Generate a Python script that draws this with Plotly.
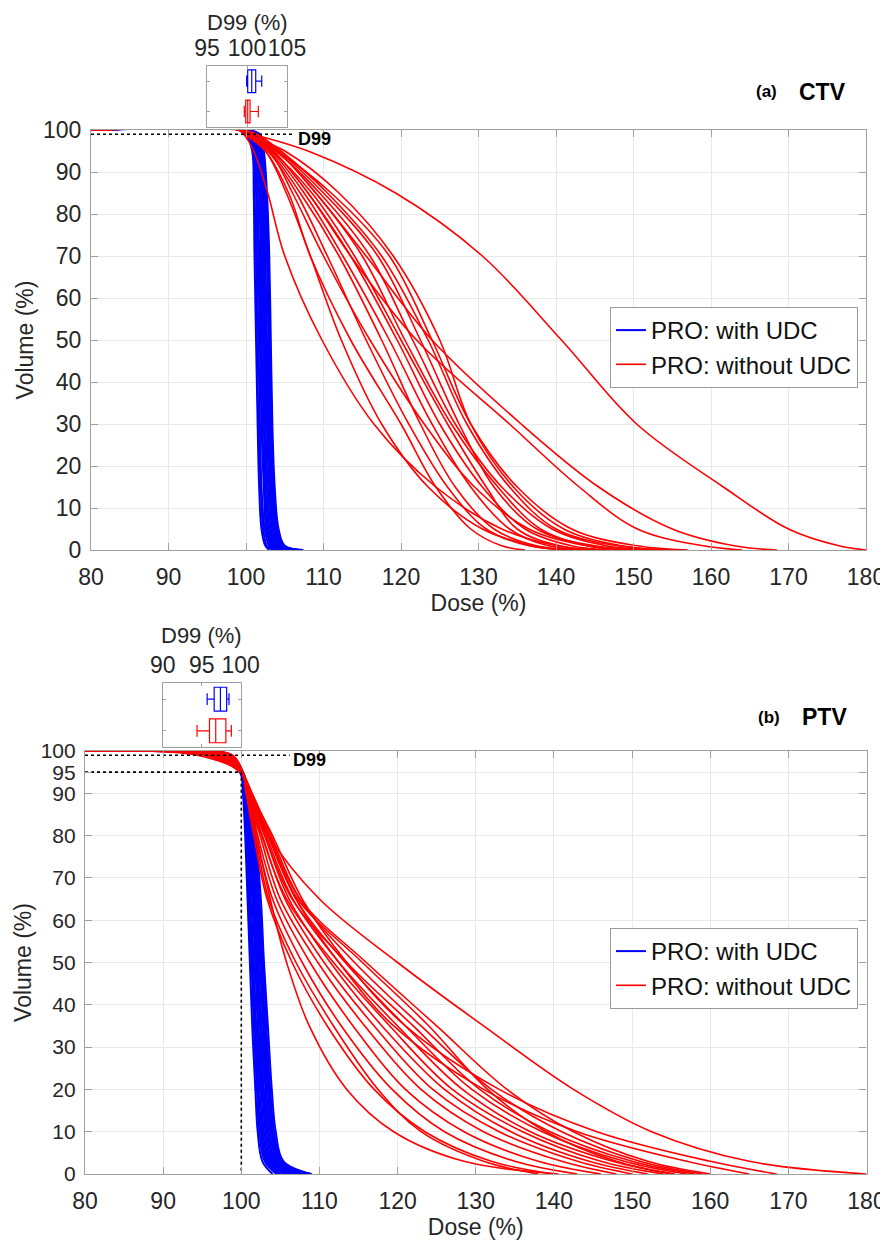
import plotly.graph_objects as go

# ---------------- DATA ----------------
START_DOSE = 80.0          # curves are flat at 100 % volume from here
# (a) CTV : volume levels (%) at which doses are read
CTV_LEVELS = [100, 99, 95, 85, 70, 50, 30, 15, 5, 1, 0]
CTV_BLUE = [
    [99.4, 100.0, 100.8, 101.0, 101.1, 101.3, 101.5, 101.7, 102.0, 102.5, 103.0],
    [99.5, 100.1, 100.9, 101.1, 101.3, 101.4, 101.6, 101.9, 102.2, 102.7, 103.5],
    [99.5, 100.1, 101.0, 101.3, 101.4, 101.6, 101.8, 102.0, 102.4, 103.0, 103.7],
    [99.6, 100.2, 101.1, 101.4, 101.6, 101.8, 102.0, 102.3, 102.6, 103.2, 104.0],
    [99.6, 100.3, 101.2, 101.5, 101.7, 101.9, 102.1, 102.4, 102.8, 103.3, 104.3],
    [99.7, 100.4, 101.3, 101.7, 101.9, 102.0, 102.3, 102.5, 102.9, 103.5, 104.5],
    [99.7, 100.5, 101.4, 101.8, 102.0, 102.2, 102.4, 102.7, 103.1, 103.7, 104.8],
    [99.8, 100.6, 101.4, 101.9, 102.1, 102.3, 102.5, 102.8, 103.2, 103.9, 105.0],
    [99.8, 100.6, 101.5, 102.0, 102.2, 102.4, 102.7, 103.0, 103.4, 104.1, 105.4],
    [99.8, 100.7, 101.6, 102.1, 102.3, 102.5, 102.8, 103.1, 103.5, 104.2, 105.6],
    [99.9, 100.8, 101.7, 102.2, 102.4, 102.6, 102.9, 103.2, 103.7, 104.4, 105.9],
    [99.9, 100.9, 101.8, 102.3, 102.5, 102.7, 103.0, 103.3, 103.8, 104.6, 106.3],
    [100.0, 101.0, 101.9, 102.4, 102.7, 102.9, 103.1, 103.4, 103.9, 104.7, 106.6],
    [100.0, 101.1, 102.0, 102.5, 102.8, 103.0, 103.2, 103.5, 104.0, 104.8, 106.9],
    [100.1, 101.4, 102.1, 102.6, 102.9, 103.1, 103.3, 103.6, 104.1, 104.9, 107.1],
    [100.2, 101.8, 102.3, 102.7, 103.0, 103.2, 103.4, 103.7, 104.2, 105.0, 107.4],
]
CTV_RED = [
    [99.0, 100.9, 108.0, 119.3, 130.5, 140.7, 150.4, 161.6, 170.0, 176.5, 180.0],
    [99.2, 100.2, 103.5, 108.0, 113.5, 122.0, 134.0, 143.0, 150.5, 159.0, 164.0],
    [99.3, 100.4, 104.0, 109.0, 115.5, 124.0, 135.5, 145.5, 155.0, 163.0, 168.5],
    [99.0, 99.7, 101.0, 102.8, 105.0, 109.8, 116.5, 124.5, 133.0, 140.0, 145.0],
    [99.1, 99.9, 102.5, 105.5, 108.3, 113.5, 120.0, 124.5, 129.0, 133.0, 136.0],
    [99.2, 100.0, 102.8, 106.5, 110.5, 115.5, 121.0, 126.0, 131.0, 136.5, 142.0],
    [99.3, 100.1, 103.0, 107.0, 112.0, 117.5, 122.5, 127.0, 132.0, 137.5, 143.0],
    [99.1, 99.8, 103.2, 107.5, 112.5, 118.5, 124.0, 129.0, 134.0, 139.0, 144.5],
    [99.4, 100.3, 103.5, 108.0, 113.5, 119.5, 125.0, 130.5, 136.0, 142.0, 147.0],
    [99.2, 100.1, 103.3, 108.5, 114.0, 120.0, 126.0, 131.0, 135.0, 140.5, 146.0],
    [99.5, 100.6, 104.0, 109.0, 115.0, 120.5, 126.5, 132.5, 138.0, 144.0, 150.0],
    [99.3, 100.2, 103.8, 109.5, 116.0, 121.5, 127.0, 133.0, 139.5, 146.5, 152.5],
    [99.6, 101.1, 104.2, 110.0, 117.0, 122.5, 127.5, 132.0, 137.5, 145.0, 153.0],
    [99.7, 101.4, 104.5, 110.5, 117.5, 123.5, 128.5, 134.0, 140.0, 148.0, 155.0],
    [99.2, 100.1, 104.0, 111.0, 118.5, 124.0, 129.0, 135.0, 142.0, 150.5, 157.0],
    [99.0, 99.8, 102.5, 105.2, 108.3, 112.3, 117.5, 123.5, 130.5, 137.0, 141.0],
    [99.1, 99.9, 103.0, 106.0, 110.0, 116.0, 123.0, 129.5, 136.5, 144.0, 149.0],
    [99.3, 100.0, 105.0, 112.0, 119.0, 125.0, 129.0, 134.5, 141.0, 148.5, 154.0],
]
# (b) PTV
PTV_LEVELS = [100, 99, 95, 90, 80, 65, 50, 35, 20, 10, 3, 0]
PTV_BLUE = [
    [89.0, 95.6, 99.8, 100.2, 100.5, 100.8, 101.1, 101.4, 101.8, 102.1, 102.7, 104.0],
    [90.0, 96.2, 99.9, 100.3, 100.6, 100.9, 101.3, 101.6, 102.0, 102.3, 103.0, 104.5],
    [90.5, 96.6, 99.9, 100.3, 100.7, 101.0, 101.4, 101.7, 102.1, 102.5, 103.2, 104.8],
    [91.0, 96.8, 100.0, 100.4, 100.8, 101.1, 101.5, 101.8, 102.2, 102.6, 103.3, 105.0],
    [90.5, 97.0, 100.0, 100.4, 100.9, 101.2, 101.6, 101.9, 102.4, 102.8, 103.5, 105.4],
    [91.5, 97.2, 100.0, 100.5, 101.0, 101.4, 101.8, 102.1, 102.5, 102.9, 103.7, 105.8],
    [91.0, 97.3, 100.0, 100.5, 101.1, 101.5, 101.9, 102.2, 102.7, 103.1, 103.9, 106.2],
    [92.0, 97.4, 100.0, 100.6, 101.2, 101.6, 102.0, 102.4, 102.8, 103.2, 104.0, 106.5],
    [91.5, 97.5, 100.1, 100.6, 101.3, 101.7, 102.1, 102.5, 102.9, 103.4, 104.2, 107.0],
    [92.0, 97.7, 100.1, 100.7, 101.3, 101.8, 102.2, 102.6, 103.1, 103.5, 104.4, 107.3],
    [92.5, 97.9, 100.1, 100.7, 101.4, 101.9, 102.4, 102.8, 103.2, 103.7, 104.6, 107.7],
    [92.0, 98.0, 100.1, 100.8, 101.5, 102.0, 102.5, 102.9, 103.4, 103.9, 104.8, 108.0],
    [93.0, 98.2, 100.2, 100.8, 101.6, 102.1, 102.6, 103.0, 103.5, 104.0, 104.9, 108.3],
    [93.0, 98.3, 100.2, 100.9, 101.6, 102.2, 102.7, 103.1, 103.6, 104.1, 105.1, 108.6],
    [93.5, 98.6, 100.2, 100.9, 101.7, 102.3, 102.8, 103.2, 103.7, 104.2, 105.2, 108.8],
    [94.0, 98.8, 100.2, 101.0, 101.8, 102.5, 102.9, 103.4, 103.9, 104.4, 105.4, 109.0],
]
PTV_RED = [
    [88.0, 94.4, 100.0, 101.0, 103.5, 110.0, 120.0, 131.0, 142.5, 152.5, 165.0, 180.0],
    [89.0, 96.0, 100.0, 101.0, 103.5, 107.0, 112.5, 119.5, 131.0, 143.0, 157.0, 165.0],
    [88.5, 95.8, 100.0, 101.2, 104.0, 107.8, 113.5, 121.0, 133.0, 145.5, 160.0, 168.5],
    [88.0, 95.2, 99.8, 101.3, 102.0, 103.7, 105.8, 108.7, 113.5, 119.5, 128.5, 140.6],
    [89.5, 96.2, 100.0, 100.6, 101.6, 103.3, 106.5, 111.0, 117.0, 123.5, 132.0, 140.0],
    [90.0, 96.5, 100.0, 100.7, 101.9, 104.0, 107.8, 112.8, 119.3, 126.0, 135.0, 143.0],
    [89.5, 96.7, 100.0, 100.8, 102.1, 104.5, 108.8, 114.3, 121.0, 128.5, 138.0, 146.0],
    [90.5, 96.8, 100.0, 100.9, 102.4, 105.0, 109.8, 115.8, 123.0, 131.0, 141.0, 148.0],
    [90.0, 96.9, 100.0, 101.0, 102.7, 105.6, 110.6, 117.0, 124.5, 133.0, 143.0, 150.0],
    [91.0, 97.0, 100.0, 101.1, 103.0, 106.1, 111.4, 118.0, 126.0, 134.5, 144.5, 152.0],
    [90.5, 97.3, 100.0, 100.9, 102.6, 105.8, 111.8, 119.0, 127.0, 136.0, 146.0, 154.0],
    [91.5, 97.6, 100.0, 101.2, 103.2, 106.6, 112.5, 120.0, 128.3, 137.0, 147.5, 155.0],
    [91.0, 97.9, 100.1, 101.3, 103.5, 107.0, 113.3, 121.0, 129.5, 138.5, 149.0, 157.0],
    [92.0, 98.1, 100.1, 101.0, 103.0, 106.5, 113.5, 122.0, 130.5, 139.5, 150.0, 158.0],
    [92.5, 98.3, 100.1, 101.4, 103.8, 107.5, 114.5, 123.0, 132.0, 141.0, 151.0, 159.0],
    [92.5, 98.5, 100.1, 101.2, 103.4, 107.2, 115.5, 124.0, 131.5, 139.0, 148.0, 155.5],
    [93.0, 98.7, 100.2, 100.7, 101.8, 103.5, 107.0, 111.8, 117.5, 123.0, 131.0, 138.0],
    [93.5, 98.9, 100.2, 101.3, 103.6, 107.5, 116.0, 125.0, 134.0, 142.5, 152.0, 160.0],
]
# D99 box-plot statistics (%): lowerfence, q1, median, q3, upperfence
CTV_D99_BLUE = [99.96, 100.09, 100.59, 101.09, 101.84]
CTV_D99_RED = [99.66, 99.84, 100.09, 100.38, 101.41]
PTV_D99_BLUE = [95.7, 96.6, 97.4, 98.2, 98.5]
PTV_D99_RED = [94.4, 96.0, 96.8, 98.1, 98.8]
# reference (dotted) lines
CTV_D99_LINE = {"x": [80, 106.3], "y": [99, 99]}
PTV_D99_LINE = {"x": [80, 106.2], "y": [99, 99]}
PTV_D95_LINE = {"x": [80, 100, 100], "y": [95, 95, 0]}

X_TICKS = list(range(80, 181, 10))
CTV_Y_TICKS = list(range(0, 101, 10))
PTV_Y_TICKS = [0, 10, 20, 30, 40, 50, 60, 70, 80, 90, 95, 100]
BLUE_NAME = "PRO: with UDC"
RED_NAME = "PRO: without UDC"

# ---------------- FIGURE ----------------
OFF = 8                      # page body margin of the html page
W, H = 888 - OFF, 1244 - OFF
BLUE, RED = "#0000FF", "#FF0000"
FONT = "Liberation Sans, Arial, sans-serif"
TXT = "#262626"
FRAME = "#a0a0a0"
GRID = "#e8e8e8"


def px(x):
    return (x - OFF) / W


def py(y):
    return 1 - (y - OFF) / H


fig = go.Figure()


def add_curves(curves, levels, color, width, xa, ya, name, legend):
    for i, c in enumerate(curves):
        fig.add_trace(go.Scatter(
            x=[START_DOSE] + c, y=[100] + levels, mode="lines",
            line=dict(color=color, width=width, shape="spline", smoothing=1.0),
            xaxis=xa, yaxis=ya, name=name, legendgroup=name + legend,
            showlegend=(i == 0), legend=legend, hoverinfo="skip"))


add_curves(CTV_BLUE, CTV_LEVELS, BLUE, 2.0, "x", "y", BLUE_NAME, "legend")
add_curves(CTV_RED, CTV_LEVELS, RED, 1.6, "x", "y", RED_NAME, "legend")
add_curves(PTV_BLUE, PTV_LEVELS, BLUE, 2.0, "x3", "y3", BLUE_NAME, "legend2")
add_curves(PTV_RED, PTV_LEVELS, RED, 1.6, "x3", "y3", RED_NAME, "legend2")

dot = dict(color="black", width=1.6, dash="dot")
fig.add_trace(go.Scatter(x=CTV_D99_LINE["x"], y=CTV_D99_LINE["y"], mode="lines",
                         line=dot, xaxis="x", yaxis="y", showlegend=False, hoverinfo="skip"))
fig.add_trace(go.Scatter(x=PTV_D99_LINE["x"], y=PTV_D99_LINE["y"], mode="lines",
                         line=dot, xaxis="x3", yaxis="y3", showlegend=False, hoverinfo="skip"))
fig.add_trace(go.Scatter(x=PTV_D95_LINE["x"], y=PTV_D95_LINE["y"], mode="lines",
                         line=dot, xaxis="x3", yaxis="y3", showlegend=False, hoverinfo="skip"))


def add_box(stats, pos, color, xa, ya):
    lf, q1, med, q3, uf = stats
    fig.add_trace(go.Box(
        y=[pos], q1=[q1], median=[med], q3=[q3], lowerfence=[lf], upperfence=[uf],
        orientation="h", width=0.75, whiskerwidth=0.5, boxpoints=False,
        line=dict(color=color, width=1.2), fillcolor="rgba(0,0,0,0)",
        xaxis=xa, yaxis=ya, showlegend=False, hoverinfo="skip"))


add_box(CTV_D99_BLUE, 2, BLUE, "x2", "y2")
add_box(CTV_D99_RED, 1, RED, "x2", "y2")
add_box(PTV_D99_BLUE, 2, BLUE, "x4", "y4")
add_box(PTV_D99_RED, 1, RED, "x4", "y4")


def main_x(domain, anchor):
    return dict(domain=domain, anchor=anchor, range=[80, 180], tickvals=X_TICKS,
                ticks="inside", ticklen=7, tickcolor=FRAME, showline=True,
                linecolor=FRAME, linewidth=1.2, mirror="ticks", showgrid=True,
                gridcolor=GRID, gridwidth=1, zeroline=False, tickangle=0,
                tickfont=dict(size=23, color=TXT, family=FONT), ticklabelstandoff=6,
                title=dict(text="Dose (%)", font=dict(size=23, color=TXT, family=FONT),
                           standoff=2))


def main_y(domain, anchor, ticks, fsize):
    return dict(domain=domain, anchor=anchor, range=[0, 100], tickvals=ticks,
                ticks="inside", ticklen=7, tickcolor=FRAME, showline=True,
                linecolor=FRAME, linewidth=1.2, mirror="ticks", showgrid=True,
                gridcolor=GRID, gridwidth=1, zeroline=False,
                tickfont=dict(size=fsize, color=TXT, family=FONT), ticklabelstandoff=4,
                title=dict(text="Volume (%)", font=dict(size=23, color=TXT, family=FONT),
                           standoff=2))


def inset_x(domain, anchor, rng, ticks):
    return dict(domain=domain, anchor=anchor, range=rng, tickvals=ticks, side="top",
                ticks="inside", ticklen=3, tickcolor=FRAME, showline=True,
                linecolor=FRAME, linewidth=1.2, mirror="ticks", showgrid=False,
                zeroline=False, tickangle=0,
                tickfont=dict(size=23, color=TXT, family=FONT),
                ticklabelstandoff=0)


def inset_y(domain, anchor):
    return dict(domain=domain, anchor=anchor, range=[0.5, 2.5], tickvals=[1, 2],
                ticks="inside", ticklen=3, tickcolor=FRAME, showticklabels=False,
                showline=True, linecolor=FRAME, linewidth=1.2, mirror="ticks",
                showgrid=False, zeroline=False)


legend_common = dict(xanchor="right", yanchor="top", bgcolor="white",
                     bordercolor="#9a9a9a", borderwidth=1, itemwidth=30,
                     tracegroupgap=0,
                     font=dict(size=24, color="#111111", family=FONT))

fig.update_layout(
    width=W, height=H, autosize=False, template="none",
    margin=dict(l=0, r=0, t=0, b=0),
    paper_bgcolor="white", plot_bgcolor="white",
    font=dict(family=FONT, color=TXT),
    xaxis=main_x([px(91), px(866)], "y"),
    yaxis=main_y([py(550), py(130)], "x", CTV_Y_TICKS, 23),
    xaxis2=inset_x([px(207), px(287)], "y2", [95, 105], [95, 100, 105]),
    yaxis2=inset_y([py(126.7), py(66)], "x2"),
    xaxis3=main_x([px(85), px(866.5)], "y3"),
    yaxis3=main_y([py(1174), py(751)], "x3", PTV_Y_TICKS, 21),
    xaxis4=inset_x([px(162.7), px(240.7)], "y4", [90, 100], [90, 95, 100]),
    yaxis4=inset_y([py(746.7), py(683.3)], "x4"),
    legend=dict(x=px(858), y=py(307), **legend_common),
    legend2=dict(x=px(858), y=py(928), **legend_common),
    showlegend=True,
)

title_font = dict(size=22, color=TXT, family=FONT)
annots = [
    dict(x=px(247), y=py(22), xref="paper", yref="paper", text="D99 (%)",
         showarrow=False, xanchor="center", yanchor="middle", font=title_font),
    dict(x=px(201.7), y=py(635), xref="paper", yref="paper", text="D99 (%)",
         showarrow=False, xanchor="center", yanchor="middle", font=title_font),
    dict(x=106.5, y=97.8, xref="x", yref="y", text="<b>D99</b>", showarrow=False,
         xanchor="left", yanchor="middle", font=dict(size=18, color="black", family=FONT)),
    dict(x=106.4, y=97.9, xref="x3", yref="y3", text="<b>D99</b>", showarrow=False,
         xanchor="left", yanchor="middle", font=dict(size=18, color="black", family=FONT)),
    dict(x=px(766.7), y=py(92), xref="paper", yref="paper", text="<b>(a)</b>",
         showarrow=False, xanchor="center", yanchor="middle",
         font=dict(size=17, color="black", family=FONT)),
    dict(x=px(822), y=py(92), xref="paper", yref="paper", text="<b>CTV</b>",
         showarrow=False, xanchor="center", yanchor="middle",
         font=dict(size=23, color="black", family=FONT)),
    dict(x=px(769), y=py(717), xref="paper", yref="paper", text="<b>(b)</b>",
         showarrow=False, xanchor="center", yanchor="middle",
         font=dict(size=17, color="black", family=FONT)),
    dict(x=px(824), y=py(717), xref="paper", yref="paper", text="<b>PTV</b>",
         showarrow=False, xanchor="center", yanchor="middle",
         font=dict(size=23, color="black", family=FONT)),
]
fig.update_layout(annotations=annots)

fig.write_html("out.html")
